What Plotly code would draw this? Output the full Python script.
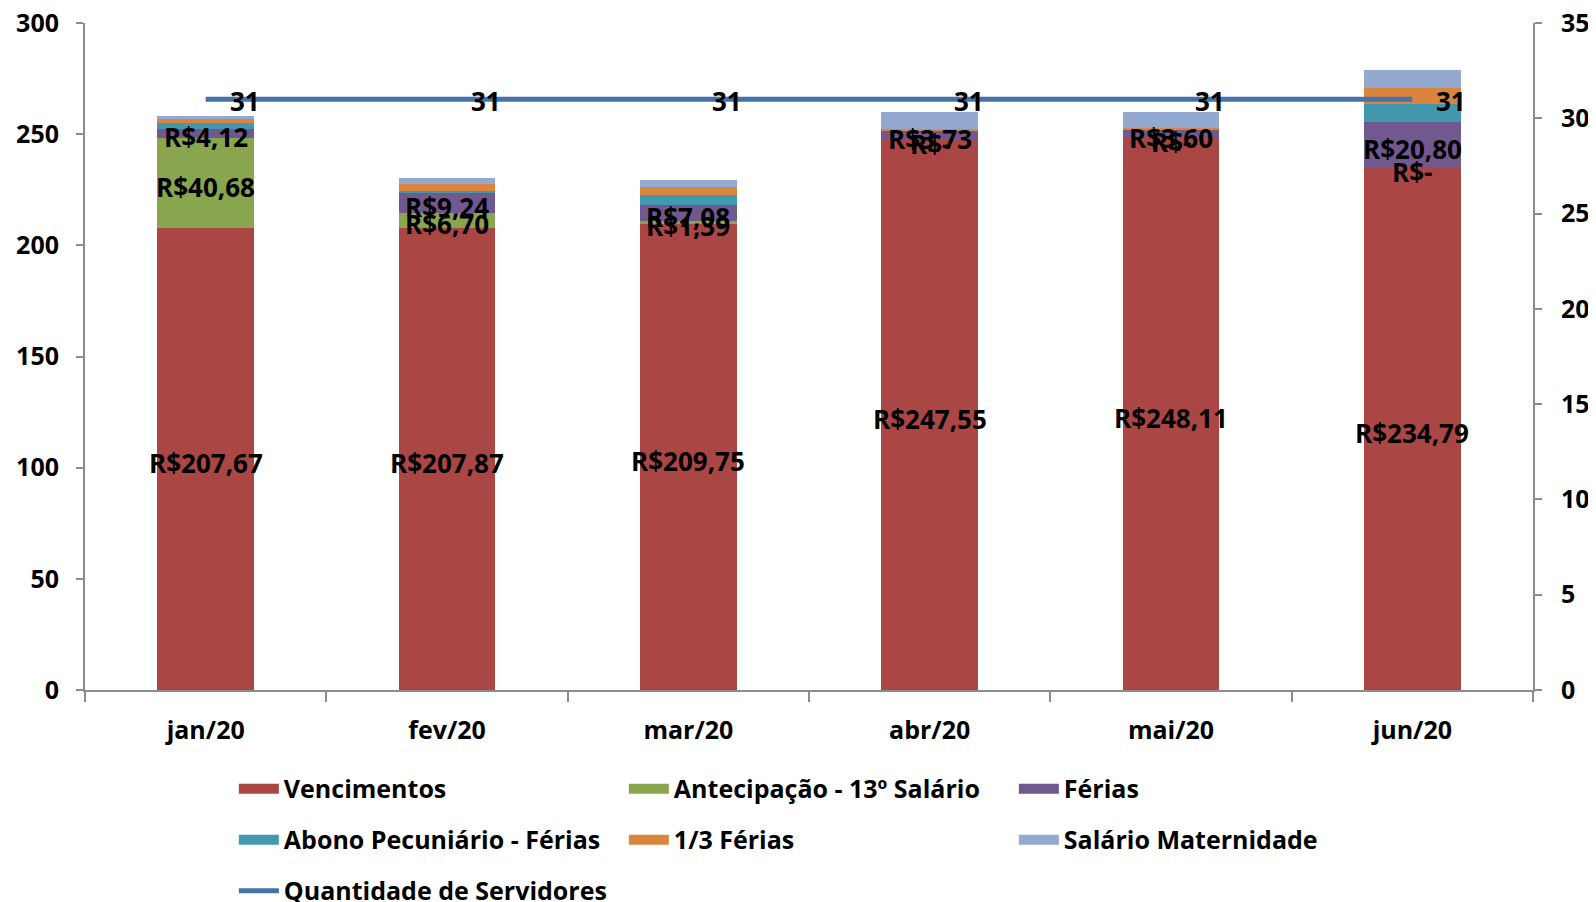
import plotly.graph_objects as go

months = ["jan/20", "fev/20", "mar/20", "abr/20", "mai/20", "jun/20"]
vencimentos = [207.67, 207.87, 209.75, 247.55, 248.11, 234.79]
antecipacao = [40.68, 6.70, 1.39, 0.0, 0.0, 0.0]
ferias = [4.12, 9.24, 7.08, 3.73, 3.60, 20.80]
abono = [2.4, 0.6, 4.6, 0.0, 0.0, 7.9]
um_terco = [1.9, 3.1, 3.2, 1.2, 1.0, 7.5]
maternidade = [1.4, 2.8, 3.4, 7.6, 7.4, 7.8]
servidores = [31, 31, 31, 31, 31, 31]

FONT = "Open Sans"
FS = 26
TFS = 25
LFS = 25
C_AXIS = "#8c8c8c"
LINE_COLOR = "#4572A7"

series = [
    ("Vencimentos", vencimentos, "#AA4643", True, "legend"),
    ("Antecipação - 13º Salário", antecipacao, "#89A54E", True, "legend"),
    ("Férias", ferias, "#71588F", True, "legend"),
    ("Abono Pecuniário - Férias", abono, "#4198AF", False, "legend2"),
    ("1/3 Férias", um_terco, "#DB843D", False, "legend2"),
    ("Salário Maternidade", maternidade, "#93A9CF", False, "legend2"),
]


def brl(v):
    if v == 0:
        return "R$-"
    return "R$" + f"{v:.2f}".replace(".", ",")


bold = dict(family=FONT, size=FS, color="black", weight="bold")
tbold = dict(family=FONT, size=TFS, color="black", weight="bold")

fig = go.Figure()
base = [0.0] * len(months)
annotations = []
for name, vals, color, labeled, leg in series:
    fig.add_trace(go.Bar(
        x=months, y=vals, name=name, marker=dict(color=color, line=dict(width=0)),
        legendgroup=name, showlegend=False, hoverinfo="skip",
    ))
    # legend swatch (wide rectangle look)
    fig.add_trace(go.Scatter(
        x=[None], y=[None], mode="lines", name=name, legendgroup=name,
        line=dict(color=color, width=14), legend=leg, hoverinfo="skip",
    ))
    if labeled:
        for m, b, v in zip(months, base, vals):
            annotations.append(dict(
                x=m, y=b + v / 2, xref="x", yref="y", text=brl(v),
                showarrow=False, font=bold, yshift=-4,
                xanchor="center", yanchor="middle",
            ))
    base = [b + v for b, v in zip(base, vals)]

fig.add_trace(go.Scatter(
    x=months, y=servidores, name="Quantidade de Servidores", yaxis="y2",
    mode="lines", line=dict(color=LINE_COLOR, width=5), legend="legend3",
    cliponaxis=False,
))
for m, v in zip(months, servidores):
    annotations.append(dict(
        x=m, y=v, xref="x", yref="y2", text=str(v), showarrow=False,
        font=bold, xanchor="left", yanchor="middle", xshift=22, yshift=-2,
    ))

legend_common = dict(
    orientation="h", xanchor="left", yanchor="middle",
    font=dict(family=FONT, size=LFS, color="black", weight="bold"),
    entrywidth=335, entrywidthmode="pixels", itemwidth=40,
    bgcolor="rgba(0,0,0,0)", traceorder="normal",
)

axis_tick = dict(tickcolor=C_AXIS, tickwidth=2, tickfont=tbold,
                 showgrid=False, zeroline=False, showline=True,
                 linecolor=C_AXIS, linewidth=2, ticks="outside")

# page body has an 8px margin: the figure is sized to fit the window from (8, 8)
fig.update_layout(
    width=1588, height=894,
    margin=dict(l=77, r=63, t=15, b=212, autoexpand=False),
    paper_bgcolor="white", plot_bgcolor="white",
    barmode="stack", bargap=0.6,
    font=dict(family=FONT, size=FS, color="black"),
    showlegend=True,
    annotations=annotations,
    legend=dict(x=0.1028, y=-0.1484, **legend_common),
    legend2=dict(x=0.1028, y=-0.2248, **legend_common),
    legend3=dict(x=0.1028, y=-0.3012, **legend_common),
    xaxis=dict(tickson="boundaries", ticklen=10, ticklabelstandoff=17,
               **axis_tick),
    yaxis=dict(range=[0, 300], dtick=50, ticklen=7, ticklabelstandoff=12,
               ticklabeloverflow="allow", **axis_tick),
    yaxis2=dict(range=[0, 35], dtick=5, overlaying="y", side="right",
                ticklen=7, ticklabelstandoff=14, ticklabeloverflow="allow",
                **axis_tick),
)

fig.write_html("out.html")
